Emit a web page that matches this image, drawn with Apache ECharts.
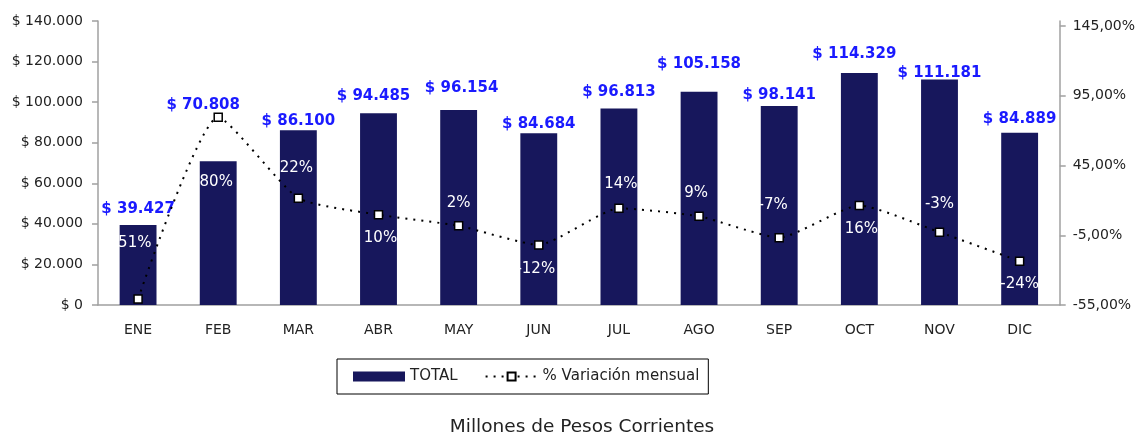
<!DOCTYPE html>
<html>
<head>
<meta charset="utf-8">
<script src="https://cdn.jsdelivr.net/npm/echarts@6/dist/echarts.min.js"></script>
<style>
  html, body { margin: 0; padding: 0; background: #fff; }
  #chart { width: 1138px; height: 436px; }
</style>
</head>
<body>
<div id="chart"></div>
<script>
// datos del grafico
const meses = ['ENE', 'FEB', 'MAR', 'ABR', 'MAY', 'JUN', 'JUL', 'AGO', 'SEP', 'OCT', 'NOV', 'DIC']
const total = [39427, 70808, 86100, 94485, 96154, 84684, 96813, 105158, 98141, 114329, 111181, 84889]
const variacion = [-50.7, 79.6, 21.6, 9.7, 1.8, -11.9, 14.3, 8.6, -6.7, 16.4, -2.8, -23.6]

// desplazamiento de etiquetas (como quedaron movidas en el original)
const offBarra = [[0, -8], [-15, -49], [0, -2], [-5, -10], [3, -14], [0, -2], [0, -9], [0, -20], [0, -3], [-5, -11], [0, 1], [0, -6]]
const offPct = [[-6, -56], [-2, 65], [-2, -30], [2, 23], [0, -23], [-3, 24], [2, -24], [-3, -23], [-6, -33], [2, 24], [0, -28], [0, 23]]

const miles = v => String(v).replace(/\B(?=(\d{3})+(?!\d))/g, '.')
const font = 'DejaVu Sans'

const chart = echarts.init(document.getElementById('chart'))
const option = {
  animation: false,
  textStyle: { fontFamily: font },
  grid: { left: 98, right: 78, top: 21, bottom: 131 },
  title: {
    text: 'Millones de Pesos Corrientes',
    left: 577, top: 413, textAlign: 'center',
    textStyle: { fontFamily: font, fontSize: 18.5, fontWeight: 'normal', color: '#222' }
  },
  legend: {
    left: 337, top: 359,
    padding: [10, 9, 10, 16],
    itemGap: 27, itemWidth: 52, itemHeight: 10,
    borderColor: '#000', borderWidth: 1,
    textStyle: { fontFamily: font, fontSize: 15, color: '#222' },
    data: [{ name: 'TOTAL', icon: 'rect' }, '% Variación mensual']
  },
  xAxis: {
    type: 'category',
    data: meses,
    axisLine: { lineStyle: { color: '#a0a0a0', width: 1.5 } },
    axisTick: { length: 6, lineStyle: { color: '#a0a0a0', width: 1.5 } },
    axisLabel: { fontFamily: font, fontSize: 14, color: '#222', margin: 18 }
  },
  yAxis: [
    {
      type: 'value', min: 0, max: 140000, interval: 20000,
      splitLine: { show: false },
      axisLine: { show: true, lineStyle: { color: '#a0a0a0', width: 1.5 } },
      axisTick: { show: true, length: 6, lineStyle: { color: '#a0a0a0', width: 1.5 } },
      axisLabel: { fontFamily: font, fontSize: 14, color: '#222', margin: 15, formatter: v => '$ ' + miles(v) }
    },
    {
      type: 'value', min: -55, max: 148.6, interval: 50,
      splitLine: { show: false },
      axisLine: { show: true, lineStyle: { color: '#a0a0a0', width: 1.5 } },
      axisTick: { show: true, length: 6, lineStyle: { color: '#a0a0a0', width: 1.5 } },
      axisLabel: {
        fontFamily: font, fontSize: 14, color: '#222', margin: 13, showMaxLabel: false,
        formatter: v => v.toFixed(2).replace('.', ',') + '%'
      }
    }
  ],
  series: [
    {
      name: 'TOTAL',
      type: 'bar',
      barWidth: '46%',
      itemStyle: { color: '#17175c' },
      data: total.map((v, i) => ({
        value: v,
        label: { offset: offBarra[i] }
      })),
      label: {
        show: true, position: 'top', distance: 0,
        fontFamily: font, fontSize: 15, fontWeight: 'bold', color: '#1a1aff',
        formatter: p => '$ ' + miles(p.value)
      }
    },
    {
      name: '% Variación mensual',
      type: 'line',
      yAxisIndex: 1,
      smooth: 0.18,
      symbol: 'rect', symbolSize: 8,
      itemStyle: { color: '#fff', borderColor: '#000', borderWidth: 1.5 },
      lineStyle: { color: '#000', width: 2, type: [2, 6] },
      data: variacion.map((v, i) => ({
        value: v,
        label: { offset: offPct[i] }
      })),
      label: {
        show: true, position: 'inside',
        fontFamily: font, fontSize: 15, color: '#fff',
        formatter: p => Math.round(p.value) + '%'
      },
      z: 5
    }
  ]
}
chart.setOption(option)
</script>
</body>
</html>
